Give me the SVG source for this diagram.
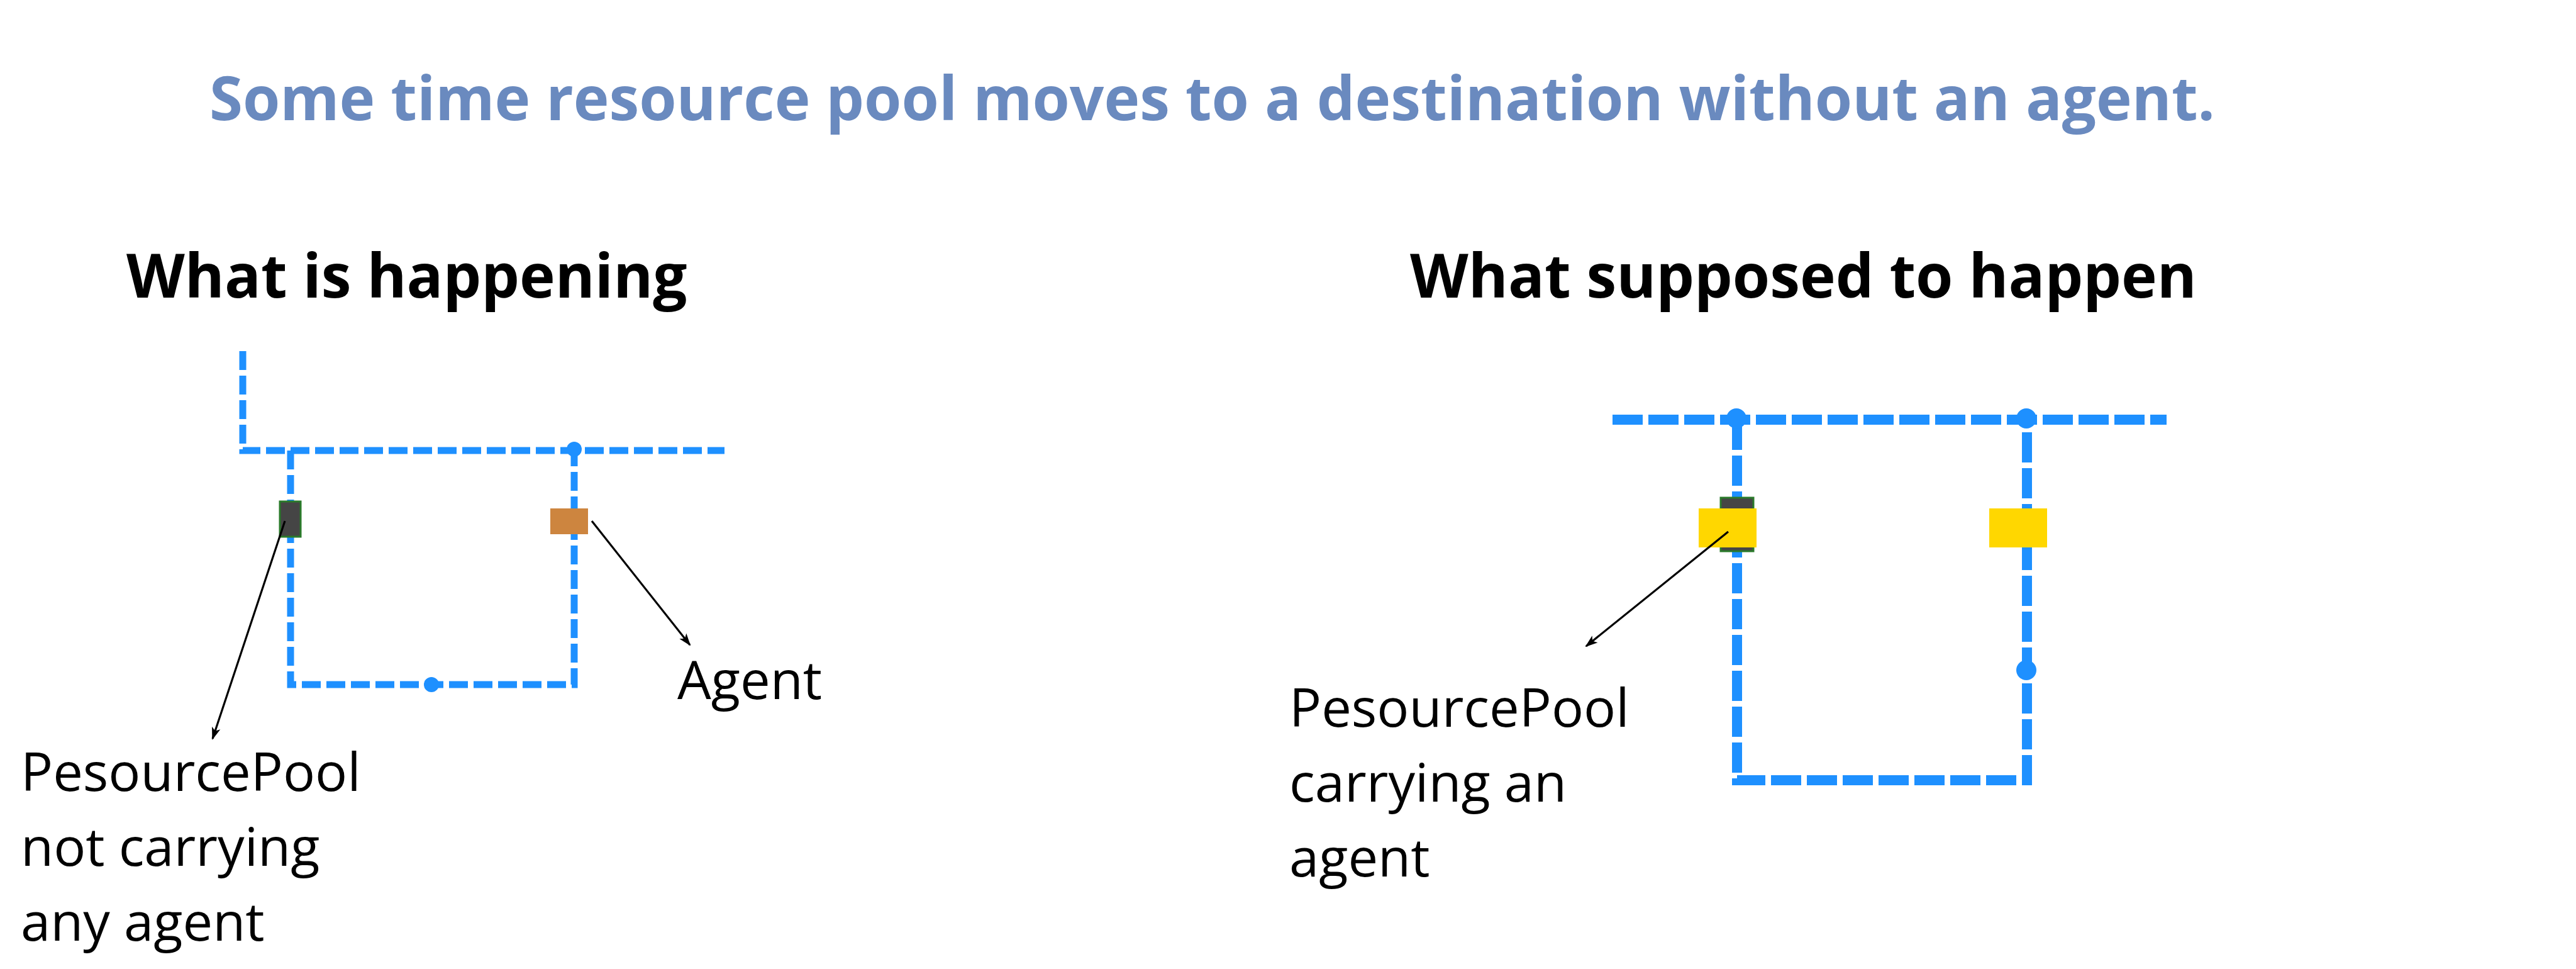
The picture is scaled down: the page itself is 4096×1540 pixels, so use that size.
<svg xmlns="http://www.w3.org/2000/svg" width="4096" height="1540" viewBox="0 0 4096 1540">
<defs>
<style>
.title{font-family:"Open Sans","Liberation Sans",sans-serif;font-weight:700;font-size:96px;fill:#6a8abf}
.head{font-family:"Open Sans","Liberation Sans",sans-serif;font-weight:700;font-size:96px;fill:#000}
.lbl{font-family:"Open Sans","Liberation Sans",sans-serif;font-size:85px;fill:#000}
.trackA{fill:none;stroke:#1e90ff;stroke-width:11;stroke-dasharray:30 9}
.trackB{fill:none;stroke:#1e90ff;stroke-width:16;stroke-dasharray:48 9}
.dot{fill:#1e90ff}
.rp{fill:#454545;stroke:#2a7a2a;stroke-width:3}
.agentO{fill:#cd853f}
.agentY{fill:#ffd700}
.arrow{fill:none;stroke:#000;stroke-width:3.2;marker-end:url(#ah)}
</style>
<marker id="ah" markerUnits="userSpaceOnUse" markerWidth="20" markerHeight="20" viewBox="0 0 20 20" refX="18" refY="10" orient="auto">
<path d="M0,3 L20,10 L0,17 L5,10 Z" fill="#000"/>
</marker>
</defs>
<rect width="4096" height="1540" fill="#fff"/>
<text id="title" class="title" x="333" y="191">Some time resource pool moves to a destination without an agent.</text>
<text id="head-left" class="head" x="201" y="473">What is happening</text>
<text id="head-right" class="head" x="2242" y="473">What supposed to happen</text>

<g id="tracks-left">
<path class="trackA" d="M386,558 V716 H1152"/>
<path class="trackA" d="M462,716 V1088 H913 V716"/>
<circle class="dot" cx="913" cy="714" r="12"/>
<circle class="dot" cx="686" cy="1088" r="12"/>
</g>
<g id="tracks-right">
<path class="trackB" d="M2564,667 H3445"/>
<path class="trackB" d="M2762,667 V1240 H3223 V667"/>
<circle class="dot" cx="2761" cy="665" r="16"/>
<circle class="dot" cx="3222" cy="665" r="16"/>
<circle class="dot" cx="3222" cy="1065" r="16"/>
</g>

<g id="resourcepool-left"><rect class="rp" x="445" y="797" width="33" height="56"/></g>
<g id="agent-left"><rect class="agentO" x="875" y="808" width="60" height="41"/></g>
<g id="resourcepool-right"><rect class="rp" x="2736" y="791" width="52" height="85"/></g>
<g id="agent-carried"><rect class="agentY" x="2701" y="808" width="92" height="62"/></g>
<g id="agent-right"><rect class="agentY" x="3163" y="808" width="92" height="62"/></g>

<g id="connectors">
<path class="arrow" d="M453,828 L338,1174"/>
<path class="arrow" d="M941,828 L1097,1025"/>
<path class="arrow" d="M2748,845 L2522,1027"/>
</g>

<g id="label-agent"><text class="lbl" x="1077" y="1111">Agent</text></g>
<g id="label-rp-left">
<text class="lbl" x="33" y="1257">PesourcePool</text>
<text class="lbl" x="33" y="1376">not carrying</text>
<text class="lbl" x="33" y="1495">any agent</text>
</g>
<g id="label-rp-right">
<text class="lbl" x="2050" y="1155">PesourcePool</text>
<text class="lbl" x="2050" y="1274">carrying an</text>
<text class="lbl" x="2050" y="1393">agent</text>
</g>
</svg>
